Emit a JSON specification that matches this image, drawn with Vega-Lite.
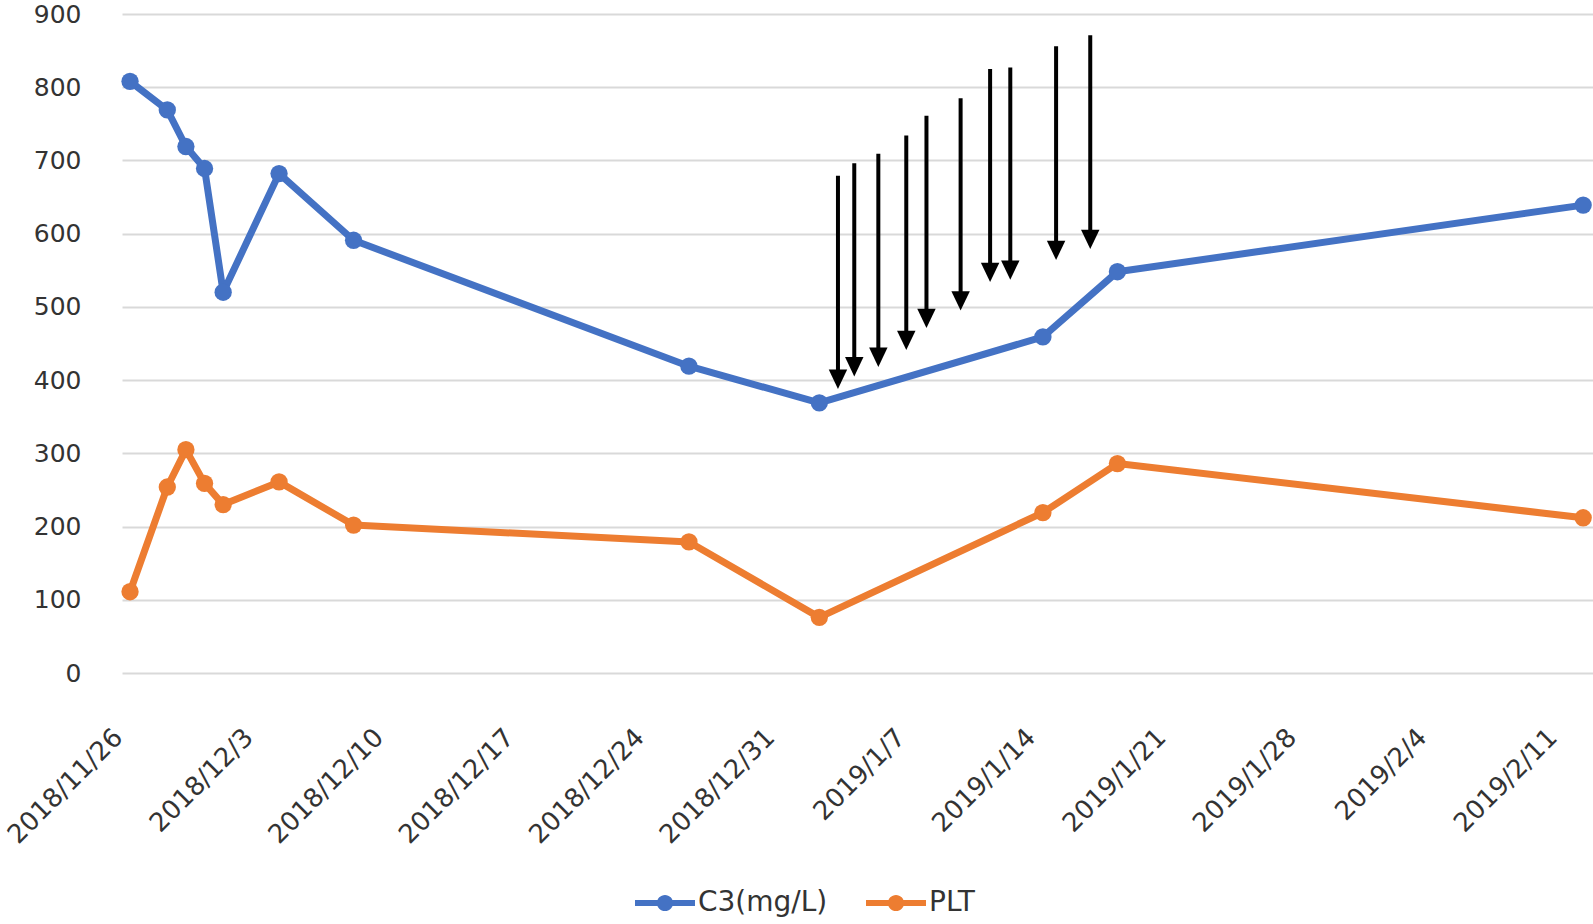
{
  "$schema": "https://vega.github.io/schema/vega-lite/v6.json",
  "width": 1471,
  "height": 659,
  "autosize": {"type": "none"},
  "padding": {"left": 122, "top": 14, "right": 0, "bottom": 251},
  "background": "white",
  "config": {"view": {"stroke": null}, "font": "DejaVu Sans"},
  "datasets": {
    "series": [
      {"date": "2018-11-26T00:00:00Z", "series": "C3(mg/L)", "value": 808},
      {"date": "2018-11-28T00:00:00Z", "series": "C3(mg/L)", "value": 769},
      {"date": "2018-11-29T00:00:00Z", "series": "C3(mg/L)", "value": 719},
      {"date": "2018-11-30T00:00:00Z", "series": "C3(mg/L)", "value": 689},
      {"date": "2018-12-01T00:00:00Z", "series": "C3(mg/L)", "value": 520},
      {"date": "2018-12-04T00:00:00Z", "series": "C3(mg/L)", "value": 682},
      {"date": "2018-12-08T00:00:00Z", "series": "C3(mg/L)", "value": 591},
      {"date": "2018-12-26T00:00:00Z", "series": "C3(mg/L)", "value": 419},
      {"date": "2019-01-02T00:00:00Z", "series": "C3(mg/L)", "value": 369},
      {"date": "2019-01-14T00:00:00Z", "series": "C3(mg/L)", "value": 459},
      {"date": "2019-01-18T00:00:00Z", "series": "C3(mg/L)", "value": 548},
      {"date": "2019-02-12T00:00:00Z", "series": "C3(mg/L)", "value": 639},
      {"date": "2018-11-26T00:00:00Z", "series": "PLT", "value": 111},
      {"date": "2018-11-28T00:00:00Z", "series": "PLT", "value": 254},
      {"date": "2018-11-29T00:00:00Z", "series": "PLT", "value": 305},
      {"date": "2018-11-30T00:00:00Z", "series": "PLT", "value": 259},
      {"date": "2018-12-01T00:00:00Z", "series": "PLT", "value": 230},
      {"date": "2018-12-04T00:00:00Z", "series": "PLT", "value": 261},
      {"date": "2018-12-08T00:00:00Z", "series": "PLT", "value": 202},
      {"date": "2018-12-26T00:00:00Z", "series": "PLT", "value": 179},
      {"date": "2019-01-02T00:00:00Z", "series": "PLT", "value": 76},
      {"date": "2019-01-14T00:00:00Z", "series": "PLT", "value": 219},
      {"date": "2019-01-18T00:00:00Z", "series": "PLT", "value": 286},
      {"date": "2019-02-12T00:00:00Z", "series": "PLT", "value": 212}
    ],
    "arrows": [
      {"date": "2019-01-03T00:00:00Z", "top": 679, "tip": 388},
      {"date": "2019-01-03T21:00:00Z", "top": 696, "tip": 405},
      {"date": "2019-01-05T04:00:00Z", "top": 709, "tip": 418},
      {"date": "2019-01-06T16:00:00Z", "top": 734, "tip": 441},
      {"date": "2019-01-07T18:00:00Z", "top": 761, "tip": 471},
      {"date": "2019-01-09T14:00:00Z", "top": 785, "tip": 495},
      {"date": "2019-01-11T04:00:00Z", "top": 825, "tip": 534},
      {"date": "2019-01-12T06:00:00Z", "top": 827, "tip": 537},
      {"date": "2019-01-14T17:00:00Z", "top": 856, "tip": 564},
      {"date": "2019-01-16T13:00:00Z", "top": 871, "tip": 579}
    ]
  },
  "encoding": {
    "x": {
      "field": "date",
      "type": "temporal",
      "scale": {
        "type": "utc",
        "domain": [
          {"year": 2018, "month": 11, "date": 25, "hours": 13, "minutes": 40, "utc": true},
          {"year": 2019, "month": 2, "date": 12, "hours": 12, "minutes": 40, "utc": true}
        ]
      },
      "axis": {
        "title": null,
        "values": [
          {"year": 2018, "month": 11, "date": 26, "utc": true},
          {"year": 2018, "month": 12, "date": 3, "utc": true},
          {"year": 2018, "month": 12, "date": 10, "utc": true},
          {"year": 2018, "month": 12, "date": 17, "utc": true},
          {"year": 2018, "month": 12, "date": 24, "utc": true},
          {"year": 2018, "month": 12, "date": 31, "utc": true},
          {"year": 2019, "month": 1, "date": 7, "utc": true},
          {"year": 2019, "month": 1, "date": 14, "utc": true},
          {"year": 2019, "month": 1, "date": 21, "utc": true},
          {"year": 2019, "month": 1, "date": 28, "utc": true},
          {"year": 2019, "month": 2, "date": 4, "utc": true},
          {"year": 2019, "month": 2, "date": 11, "utc": true}
        ],
        "labelExpr": "utcFormat(datum.value, '%Y/%-m/%-d')",
        "labelAngle": -45,
        "labelAlign": "right",
        "labelBaseline": "middle",
        "labelFontSize": 26,
        "labelFont": "DejaVu Sans",
        "labelColor": "#333333",
        "labelPadding": 60,
        "labelOffset": -12,
        "labelOverlap": false,
        "labelFlush": false,
        "labelBound": false,
        "ticks": false,
        "domain": false,
        "grid": false
      }
    },
    "y": {
      "field": "value",
      "type": "quantitative",
      "scale": {"domain": [0, 900]},
      "axis": {
        "title": null,
        "values": [0, 100, 200, 300, 400, 500, 600, 700, 800, 900],
        "labelFontSize": 25,
        "labelFont": "DejaVu Sans",
        "labelColor": "#333333",
        "labelPadding": 41,
        "ticks": false,
        "domain": false,
        "gridColor": "#D9D9D9",
        "gridWidth": 2
      }
    }
  },
  "layer": [
    {
      "data": {"name": "series"},
      "transform": [{"filter": "datum.series === 'C3(mg/L)'"}],
      "mark": {"type": "line", "strokeWidth": 7, "color": "#4472C4", "strokeJoin": "round", "strokeCap": "round"}
    },
    {
      "data": {"name": "series"},
      "transform": [{"filter": "datum.series === 'PLT'"}],
      "mark": {"type": "line", "strokeWidth": 7, "color": "#ED7D31", "strokeJoin": "round", "strokeCap": "round"}
    },
    {
      "data": {"name": "series"},
      "mark": {"type": "point", "filled": true, "size": 300, "opacity": 1},
      "encoding": {
        "color": {
          "field": "series",
          "type": "nominal",
          "scale": {"domain": ["C3(mg/L)", "PLT"], "range": ["#4472C4", "#ED7D31"]},
          "legend": {
            "title": null,
            "orient": "none",
            "legendX": 513,
            "legendY": 859,
            "direction": "horizontal",
            "columns": 2,
            "padding": 0,
            "symbolType": "M-1,-0.1L1,-0.1L1,0.1L-1,0.1Z M0.27,0A0.27,0.27 0 1,1 -0.27,0A0.27,0.27 0 1,1 0.27,0Z",
            "symbolSize": 3600,
            "symbolStrokeWidth": 0,
            "symbolOpacity": 1,
            "labelFontSize": 28,
            "labelFont": "DejaVu Sans",
            "labelColor": "#333333",
            "labelOffset": 3,
            "columnPadding": 38
          }
        }
      }
    },
    {
      "data": {"name": "arrows"},
      "mark": {"type": "rule", "color": "black", "strokeWidth": 4, "y2Offset": -8},
      "encoding": {
        "y": {"field": "top", "type": "quantitative"},
        "y2": {"field": "tip"}
      }
    },
    {
      "data": {"name": "arrows"},
      "mark": {"type": "point", "shape": "M-1,-2.1L1,-2.1L0,0Z", "filled": true, "color": "black", "size": 340, "opacity": 1},
      "encoding": {
        "y": {"field": "tip", "type": "quantitative"}
      }
    }
  ]
}
